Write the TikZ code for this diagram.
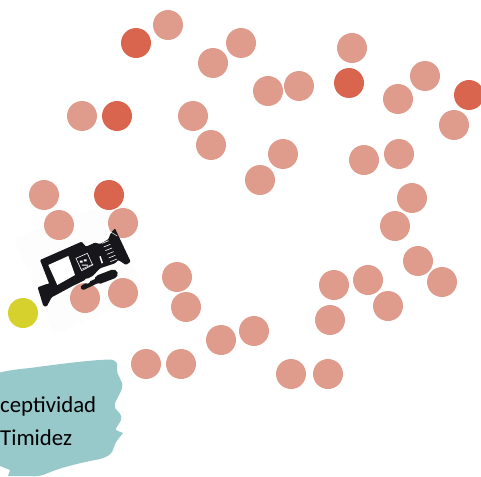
\documentclass[tikz,border=0pt]{standalone}
\usepackage{fontspec}
\setmainfont{Carlito}
\definecolor{salmon}{HTML}{DF9C8C}
\definecolor{redspot}{HTML}{D9654F}
\definecolor{yellowspot}{HTML}{D6D12C}
\definecolor{tealblob}{HTML}{97C9CB}
\definecolor{camblack}{HTML}{17161A}
\definecolor{palecard}{HTML}{FDFDFD}
\tikzset{
  spot/.style={circle,minimum size=30pt,inner sep=0pt,fill=#1},
  labeltext/.style={anchor=base west,inner sep=0pt,font=\fontsize{22.8pt}{26pt}\selectfont,text=black}
}
\begin{document}
\begin{tikzpicture}[x=1pt,y=-1pt]
\useasboundingbox (0,0) rectangle (481,476);
\clip (0,0) rectangle (481,476);
% pale backing of the camera picture
\fill[palecard] (14,238) -- (104,205) -- (147,294) -- (54,335) -- cycle;
% spots
\foreach \x/\y in {168/25,213/63,241/43,268/91,299/86,352/48,398/99,425/76,454/125,82/116,193/116,211/145,283/154,260/180,364/160,399/154,412/198,395/226,418/261,442/282,368/280,334/285,388/306,330/320,44/195,59/225,123/223,85/298,123/293,177/277,186/307,221/340,254/331,146/364,181/364,291/374,328/374}
  \node[spot=salmon] at (\x,\y) {};
\foreach \x/\y in {136/43,117/116,349/83,469/95,109/195}
  \node[spot=redspot] at (\x,\y) {};
\node[spot=yellowspot] at (23,313) {};
% camera
\begin{scope}[shift={(0,200)},x=0.3333pt,y=-0.3333pt]
\fill[camblack,rounded corners=1pt] (120,180) -- (245,125) -- (258,140) -- (285,128) -- (300,132) -- (325,118) -- (332,100) -- (345,85) -- (392,185) -- (378,195) -- (355,180) -- (345,190) -- (300,205) -- (278,228) -- (245,245) -- (218,258) -- (155,292) -- (140,320) -- (130,318) -- (113,262) -- (140,252) -- (148,252) -- cycle;
\fill[white] (145,195) -- (205,168) -- (225,225) -- (172,255) -- cycle;
\draw[white,line width=0.6pt] (228,175) -- (262,160) -- (278,195) -- (245,212) -- cycle;
\fill[white] (240,182) rectangle ++(8,6) (252,178) rectangle ++(8,6) (246,194) rectangle ++(18,3);
\draw[white,line width=0.5pt] (244,208) -- (280,192);
\foreach \i in {0,...,5}
  \draw[white,line width=0.6pt] ({306+\i*5},{130+\i*11}) -- ({326+\i*5},{122+\i*11});
\fill[white] (298,170) -- (302,168) -- (309,188) -- (305,191) -- cycle;
\draw[white,line width=0.5pt] (332,96) -- (352,108);
\draw[camblack,line width=9pt,line cap=round] (298,238) -- (340,222);
\draw[camblack,line width=5pt,line cap=round] (250,262) -- (300,238);
\fill[white] (262,243) circle[radius=8];
\end{scope}
% teal blob
\fill[tealblob] (0,372.5) .. controls (10,370) and (20,369) .. (30,368) .. controls (60,364) and (90,360) .. (110,359.5) .. controls (117,360) and (118,364) .. (117,369) .. controls (116,376) and (124,380) .. (122,388) .. controls (120,396) and (113,402) .. (115,408) .. controls (118,412) and (123,415) .. (121,420) .. controls (119,425) and (115,428) .. (116,430) .. controls (118,432) and (122,432) .. (123,433) .. controls (120,437) and (115,442) .. (114,447) .. controls (113,453) and (108,458) .. (95,460) .. controls (75,464) and (60,468) .. (48,473) .. controls (42,476) and (35,477) .. (30,476) -- (8,476) -- (10,470) -- (0,466) -- cycle;
\node[labeltext] (recept) at (0,412) {ceptividad};
\node[labeltext] (timid) at (0,445) {Timidez};
\end{tikzpicture}
\end{document}
